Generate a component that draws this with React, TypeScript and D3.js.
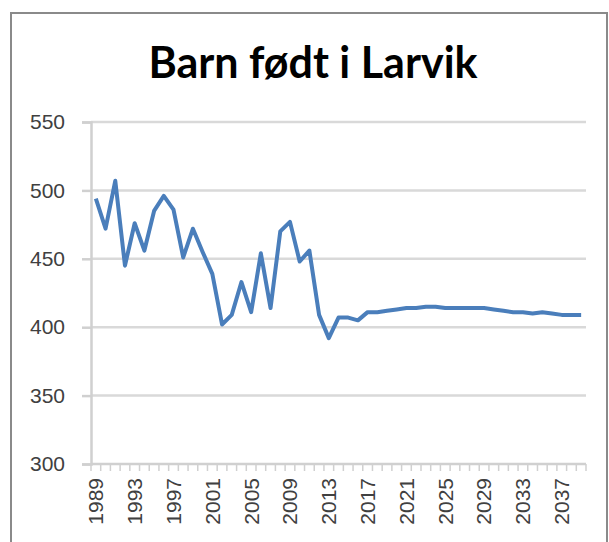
import { scaleBand, scaleLinear, line as d3Line, axisLeft, select } from 'd3';
import { useEffect, useRef } from 'react';

const title = 'Barn født i Larvik';

const years = [
  1989, 1990, 1991, 1992, 1993, 1994, 1995, 1996, 1997, 1998, 1999, 2000, 2001,
  2002, 2003, 2004, 2005, 2006, 2007, 2008, 2009, 2010, 2011, 2012, 2013, 2014,
  2015, 2016, 2017, 2018, 2019, 2020, 2021, 2022, 2023, 2024, 2025, 2026, 2027,
  2028, 2029, 2030, 2031, 2032, 2033, 2034, 2035, 2036, 2037, 2038, 2039,
];

const births = [
  494, 472, 507, 445, 476, 456, 485, 496, 486, 451, 472, 455, 439,
  402, 409, 433, 411, 454, 414, 470, 477, 448, 456, 409, 392, 407,
  407, 405, 411, 411, 412, 413, 414, 414, 415, 415, 414, 414, 414,
  414, 414, 413, 412, 411, 411, 410, 411, 410, 409, 409, 409,
];

const yTicks = [300, 350, 400, 450, 500, 550];
const labelEvery = 4;

const WIDTH = 609;
const HEIGHT = 542;

const App = () => {
  const svgElem = useRef<SVGSVGElement>(null);

  useEffect(() => {
    document.body.style.margin = '0';
    if (!svgElem.current) {
      return;
    }
    const svg = select(svgElem.current);
    svg.selectAll('*').remove();

    // plot area
    const MARGINS = { top: 122, right: 23, bottom: 78, left: 91 };

    const xScale = scaleBand<number>()
      .domain(years)
      .range([MARGINS.left, WIDTH - MARGINS.right])
      .padding(0);
    const yScale = scaleLinear()
      .domain([300, 550])
      .range([HEIGHT - MARGINS.bottom, MARGINS.top]);

    // chart border
    svg
      .append('rect')
      .attr('x', 11)
      .attr('y', 13)
      .attr('width', 596)
      .attr('height', 560)
      .attr('fill', 'white')
      .attr('stroke', '#8a8a8a')
      .attr('stroke-width', 2);

    // title
    svg
      .append('text')
      .attr('x', 313)
      .attr('y', 78)
      .attr('text-anchor', 'middle')
      .style('font-family', 'Lato, sans-serif')
      .style('font-weight', 'bold')
      .style('font-size', '43px')
      .style('fill', '#000')
      .text(title);

    // grid lines
    svg
      .append('g')
      .selectAll('line')
      .data(yTicks.slice(1))
      .join('line')
      .attr('x1', MARGINS.left)
      .attr('x2', WIDTH - MARGINS.right)
      .attr('y1', (d) => yScale(d))
      .attr('y2', (d) => yScale(d))
      .attr('stroke', '#d9d9d9')
      .attr('stroke-width', 2.5);

    // y axis
    const yAxis = axisLeft(yScale).tickValues(yTicks).tickSize(9).tickPadding(17);
    const yG = svg
      .append('g')
      .attr('transform', `translate(${MARGINS.left}, 0)`)
      // @ts-expect-error: d3 typings
      .call(yAxis);
    yG.select('.domain').attr('stroke', '#d0d0d0').attr('stroke-width', 2.5);
    yG.selectAll('.tick line').attr('stroke', '#d0d0d0').attr('stroke-width', 2.5);
    yG.selectAll('.tick text')
      .style('font-family', '"Liberation Sans", Arial, sans-serif')
      .style('font-size', '21px')
      .style('fill', '#404040');

    // x axis: ticks at category boundaries, labels every 4th year
    const boundaries = years.map((y) => xScale(y) as number).concat([WIDTH - MARGINS.right]);
    const xG = svg.append('g');
    xG.append('line')
      .attr('x1', MARGINS.left)
      .attr('x2', WIDTH - MARGINS.right)
      .attr('y1', yScale(300))
      .attr('y2', yScale(300))
      .attr('stroke', '#d0d0d0')
      .attr('stroke-width', 2.5);
    xG.selectAll('.xtick')
      .data(boundaries)
      .join('line')
      .attr('class', 'xtick')
      .attr('x1', (d) => d)
      .attr('x2', (d) => d)
      .attr('y1', yScale(300))
      .attr('y2', yScale(300) + 7)
      .attr('stroke', '#d0d0d0')
      .attr('stroke-width', 1.5);
    xG.selectAll('.xlabel')
      .data(years.filter((_, i) => i % labelEvery === 0))
      .join('text')
      .attr('class', 'xlabel')
      .attr(
        'transform',
        (d) => `translate(${(xScale(d) as number) + xScale.bandwidth() / 2}, ${yScale(300) + 14}) rotate(-90)`
      )
      .attr('text-anchor', 'end')
      .attr('dy', '0.35em')
      .style('font-family', '"Liberation Sans", Arial, sans-serif')
      .style('font-size', '21px')
      .style('fill', '#404040')
      .text((d) => String(d));

    // data line
    const line = d3Line<number>()
      .x((_, i) => (xScale(years[i]) as number) + xScale.bandwidth() / 2)
      .y((d) => yScale(d));

    svg
      .append('path')
      .attr('d', line(births))
      .attr('fill', 'none')
      .attr('stroke', '#4a7ebb')
      .attr('stroke-width', 4)
      .attr('stroke-linejoin', 'round');
  }, []);

  return <svg ref={svgElem} width={WIDTH} height={HEIGHT} style={{ display: 'block' }} />;
};

export default App;
